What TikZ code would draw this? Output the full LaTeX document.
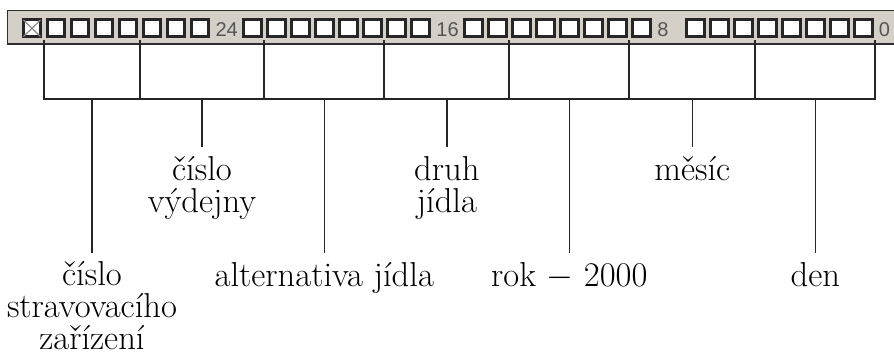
\documentclass[tikz,border=0pt]{standalone}
\usepackage{fontspec}
\newfontfamily\bitfont{Liberation Sans}
\definecolor{barfill}{HTML}{D4D0C8}
\definecolor{barline}{HTML}{2E2E2E}
\definecolor{boxline}{HTML}{262626}
\definecolor{bitnum}{HTML}{555555}
\definecolor{crossgray}{HTML}{8A8A8A}
\begin{document}
\begin{tikzpicture}[x=0.5pt,y=-0.5pt,
  bitbox/.style={draw=boxline, fill=white, line width=1.5pt, inner sep=0pt,
    minimum width=8.75pt, minimum height=8.5pt},
  field/.style={draw=boxline, line width=0.8pt},
  link/.style={draw=boxline, line width=0.8pt},
  bitnum/.style={font=\bitfont\fontsize{10}{11}\selectfont, text=bitnum,
    anchor=base west, inner sep=0pt},
  lab/.style={font=\fontsize{17.3}{16}\selectfont, align=center,
    anchor=base, inner sep=0pt}]
\useasboundingbox (0,0) rectangle (894,353);

% register bar (runs off the right edge)
\fill[barfill] (7.5,10.7) rectangle (900,44);
\draw[barline, line width=0.75pt] (900,10.7) -- (7.5,10.7) -- (7.5,44) -- (900,44);

% 32 bit boxes in four groups of eight
\foreach \g/\gx in {0/21.7,1/242,2/463,3/685}{
  \foreach \k in {0,...,7}{
    \pgfmathtruncatemacro{\bitno}{31-8*\g-\k}
    \node[bitbox] (bit\bitno) at (\gx+24*\k+10.25,28.3) {};
  }
}
\draw[crossgray, line width=0.6pt]
  ([shift={(0.9pt,0.9pt)}]bit31.south west) -- ([shift={(-0.9pt,-0.9pt)}]bit31.north east)
  ([shift={(0.9pt,-0.9pt)}]bit31.north west) -- ([shift={(-0.9pt,0.9pt)}]bit31.south east);

% bit position numbers
\node[bitnum] (n24) at (215.2,37) {24};
\node[bitnum] (n16) at (436,37) {16};
\node[bitnum] (n8) at (657,37) {8};
\node[bitnum] (n0) at (878.5,37) {0};

% field brackets
\coordinate (f1) at (92,99);
\coordinate (f2) at (202,99);
\coordinate (f3) at (324.3,99);
\coordinate (f4) at (446.8,99);
\coordinate (f5) at (569.3,99);
\coordinate (f6) at (692.3,99);
\coordinate (f7) at (815.3,99);
\foreach \f/\hi/\lo in {1/30/27,2/26/23,3/22/18,4/17/14,5/13/9,6/8/5,7/4/0}{
  \draw[field] ([xshift=-0.75pt,yshift=-0.75pt]bit\hi.south west) |- (f\f)
    -| ([xshift=0.75pt,yshift=-0.75pt]bit\lo.south east);
}

% leader ends
\coordinate (e1) at (92,253);
\coordinate (e2) at (202,147);
\coordinate (e3) at (324.3,253);
\coordinate (e4) at (446.8,147);
\coordinate (e5) at (569.3,253);
\coordinate (e6) at (692.3,147);
\coordinate (e7) at (815.3,253);
\foreach \f in {1,...,7}{\draw[link] (f\f) -- (e\f);}

% field names (base anchor sits on the last line)
\node[lab] (l1) at (92,349.5) {číslo\\stravovacího\\zařízení};
\node[lab] (l2) at (202,212) {číslo\\výdejny};
\node[lab] (l3) at (324.3,286.7) {alternativa jídla};
\node[lab] (l4) at (446.8,212) {druh\\jídla};
\node[lab] (l5) at (569.3,286.7) {rok $-$ 2000};
\node[lab] (l6) at (692.3,180) {měsíc};
\node[lab] (l7) at (815.3,286.7) {den};
\end{tikzpicture}
\end{document}
